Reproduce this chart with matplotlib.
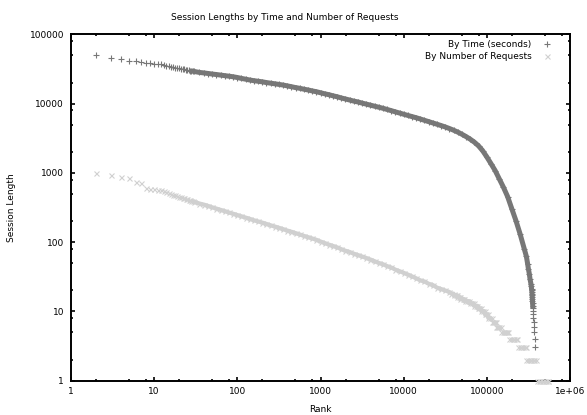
import matplotlib
matplotlib.use("Agg")
import matplotlib.pyplot as plt
from matplotlib.ticker import FixedLocator, NullFormatter

# session length by time (seconds)
time_rank = [2, 3, 4, 5, 6, 7, 8, 9, 10, 11, 12, 13, 14, 15, 16, 17, 18, 19, 20,
             21, 22, 23, 24, 25, 26, 27, 28, 29, 30,
             35, 40, 45, 50, 56, 63, 71, 79, 89, 100, 112, 126, 141, 158, 178,
             200, 224, 251, 282, 316, 355, 398, 447, 501, 562, 631, 708, 794, 891,
             1000, 1122, 1259, 1413, 1585, 1778, 1995, 2239, 2512, 2818, 3162,
             3548, 3981, 4467, 5012, 5623, 6310, 7079, 7943, 8913,
             10000, 11220, 12590, 14130, 15850, 17780, 19950, 22390, 25120,
             28180, 31620, 35480, 39810, 44670, 50120, 56230, 63100, 70790,
             79430, 89130, 100000, 112200, 125900, 141300, 158500, 177800,
             199500, 223900, 251200, 281800, 299000, 309000, 316000, 324000,
             331000, 339000, 343000, 345000, 347000, 348500, 350000, 351000,
             352000, 353000, 354000, 355000, 356500, 358000, 360000, 362000,
             364000, 366000, 368500, 371000, 374500, 378000]
time_len = [50000, 45300, 44300, 41600, 41200, 39700, 39000, 38400, 38000, 37300,
            36900, 36200, 35600, 34700, 34200, 33600, 33300, 32800, 32400,
            32100, 31700, 31300, 31000, 30700, 30400, 30000, 29800, 29500, 29300,
            28300, 27800, 27300, 26800, 26400, 25900, 25400, 25000, 24500, 23900,
            23200, 22600, 22000, 21500, 21100, 20700, 20200, 19800, 19400, 19000,
            18600, 18100, 17600, 17100, 16700, 16200, 15800, 15300, 14900,
            14400, 13900, 13500, 13000, 12600, 12100, 11700, 11300, 10900,
            10600, 10200, 9860, 9530, 9200, 8900, 8590, 8260, 7940, 7620, 7330,
            7040, 6770, 6510, 6270, 6010, 5750, 5510, 5270, 5050, 4830, 4610,
            4380, 4140, 3890, 3620, 3350, 3070, 2780, 2460, 2090, 1700, 1360,
            1080, 817, 619, 454, 304, 204, 131, 80, 62, 49, 41, 35, 29, 25, 23,
            21, 20, 19, 18, 17, 16, 15, 14, 13, 12, 11, 10, 9, 8, 7, 6, 5, 4, 3]

# session length by number of requests
req_rank = [2, 3, 4, 5, 6, 7, 8, 9, 10, 11, 12, 13, 14, 15, 16, 17, 18, 19, 20,
            21, 22, 23, 24, 25, 26, 27, 28, 29, 30,
            35, 40, 45, 50, 56, 63, 71, 79, 89, 100, 112, 126, 141, 158, 178,
            200, 224, 251, 282, 316, 355, 398, 447, 501, 562, 631, 708, 794, 891,
            1000, 1122, 1259, 1413, 1585, 1778, 1995, 2239, 2512, 2818, 3162,
            3548, 3981, 4467, 5012, 5623, 6310, 7079, 7943, 8913,
            10000, 11220, 12590, 14130, 15850, 17780, 19950, 22390, 25120,
            28180, 31620, 35480, 37500, 39800,
            40000, 42000, 43600, 44000, 46000, 47800, 48000, 51000, 53500,
            54000, 58000, 61500, 62000, 66000, 69500, 70000, 74000, 77000,
            78000, 81500, 85000, 86000, 90000, 94000, 95000, 99000, 103000,
            104000, 109000, 114000, 116000, 119000, 122000, 125000, 128000,
            130000, 134000, 138000, 142000, 146000,
            150000, 155000, 160000, 165000, 170000, 175000, 180000,
            184000, 194000, 204000, 214000, 224000, 233000,
            236000, 248000, 260000, 272000, 284000, 294000,
            297000, 312000, 327000, 342000, 357000, 372000, 388000,
            400000, 420000, 440000, 460000, 480000, 500000, 520000, 540000, 550000]
req_len = [990, 930, 880, 850, 730, 710, 600, 590, 580, 570, 560, 542, 526, 512,
           498, 486, 475, 464, 454, 446, 437, 429, 422, 414, 407, 402, 395, 390, 385,
           361, 347, 332, 318, 305, 292, 280, 268, 257, 246, 236, 226, 217, 207,
           199, 191, 183, 175, 168, 161, 154, 147, 141, 135, 129, 123, 118, 113,
           108, 102, 97, 92, 88, 84, 79, 75, 72, 68, 65, 62, 59, 56, 53, 50, 48,
           45, 43, 40, 38, 36, 34, 32, 30, 28, 27, 25, 24, 22, 21, 20, 19, 18, 18,
           17, 17, 17, 16, 16, 16, 15, 15, 15,
           14, 14, 14, 13, 13, 13, 12, 12, 12,
           11, 11, 11, 10, 10, 10, 9, 9, 9,
           8, 8, 8, 7, 7, 7, 7, 7,
           6, 6, 6, 6, 6,
           5, 5, 5, 5, 5, 5, 5,
           4, 4, 4, 4, 4, 4,
           3, 3, 3, 3, 3, 3,
           2, 2, 2, 2, 2, 2, 2,
           1, 1, 1, 1, 1, 1, 1, 1, 1]

x_ticks = [1, 10, 100, 1000, 10000, 100000, 1000000]
x_labels = ["1", "10", "100", "1000", "10000", "100000", "1e+06"]
y_ticks = [1, 10, 100, 1000, 10000, 100000]
y_labels = ["1", "10", "100", "1000", "10000", "100000"]

dark = "#777777"
light = "#d0d0d0"

plt.rcParams["font.family"] = ["DejaVu Sans"]

fig = plt.figure(figsize=(5.87, 4.15), dpi=100)
ax = fig.add_axes([71 / 587, 1 - 380.5 / 415, 499 / 587, 346 / 415])

# where the points sit so close that they merge into a band
t_band = [(r, v) for r, v in zip(time_rank, time_len) if 28 <= r <= 358000]
r_band = [(r, v) for r, v in zip(req_rank, req_len) if 28 <= r <= 114000]

ax.plot([p[0] for p in t_band], [p[1] for p in t_band], color=dark, lw=3.6,
        solid_capstyle="butt", zorder=2)
ax.plot(time_rank, time_len, linestyle="none", marker="+", markersize=4.5,
        markeredgewidth=0.8, color=dark, label="By Time (seconds)", zorder=2)
ax.plot([p[0] for p in r_band], [p[1] for p in r_band], color=light, lw=3.0,
        solid_capstyle="butt", zorder=3)
ax.plot(req_rank, req_len, linestyle="none", marker="x", markersize=3.6,
        markeredgewidth=0.8, color=light, label="By Number of Requests",
        zorder=3, clip_on=False)

ax.set_xscale("log")
ax.set_yscale("log")
ax.set_xlim(1, 1e6)
ax.set_ylim(1, 1e5)

minor = []
for d in [1, 10, 100, 1000, 10000, 100000]:
    minor += [2 * d, 5 * d, 8 * d]
ax.xaxis.set_major_locator(FixedLocator(x_ticks))
ax.xaxis.set_minor_locator(FixedLocator(minor))
ax.yaxis.set_major_locator(FixedLocator(y_ticks))
ax.yaxis.set_minor_locator(FixedLocator(minor[:-3]))
ax.set_xticklabels(x_labels)
ax.set_yticklabels(y_labels)
ax.xaxis.set_minor_formatter(NullFormatter())
ax.yaxis.set_minor_formatter(NullFormatter())

ax.tick_params(which="both", direction="in", top=True, right=True,
               labelsize=6.5, colors="black")
ax.tick_params(which="major", length=3, width=1.2, pad=5)
ax.tick_params(which="minor", length=1.5, width=1.2)
for s in ax.spines.values():
    s.set_linewidth(1.4)
    s.set_zorder(2.5)

ax.set_xlabel("Rank", fontsize=6.5, labelpad=6)
ax.set_ylabel("Session Length", fontsize=6.5, labelpad=10)
fig.text(285 / 587, 1 - 17 / 415, "Session Lengths by Time and Number of Requests",
         ha="center", va="center", fontsize=6.5)

ax.legend(loc="upper right", bbox_to_anchor=(0.963, 0.985), markerfirst=False,
          frameon=False, fontsize=6.5, handlelength=1.0, handletextpad=1.2,
          borderpad=0, borderaxespad=0, labelspacing=0.35)

fig.savefig("out.png", dpi=100)
